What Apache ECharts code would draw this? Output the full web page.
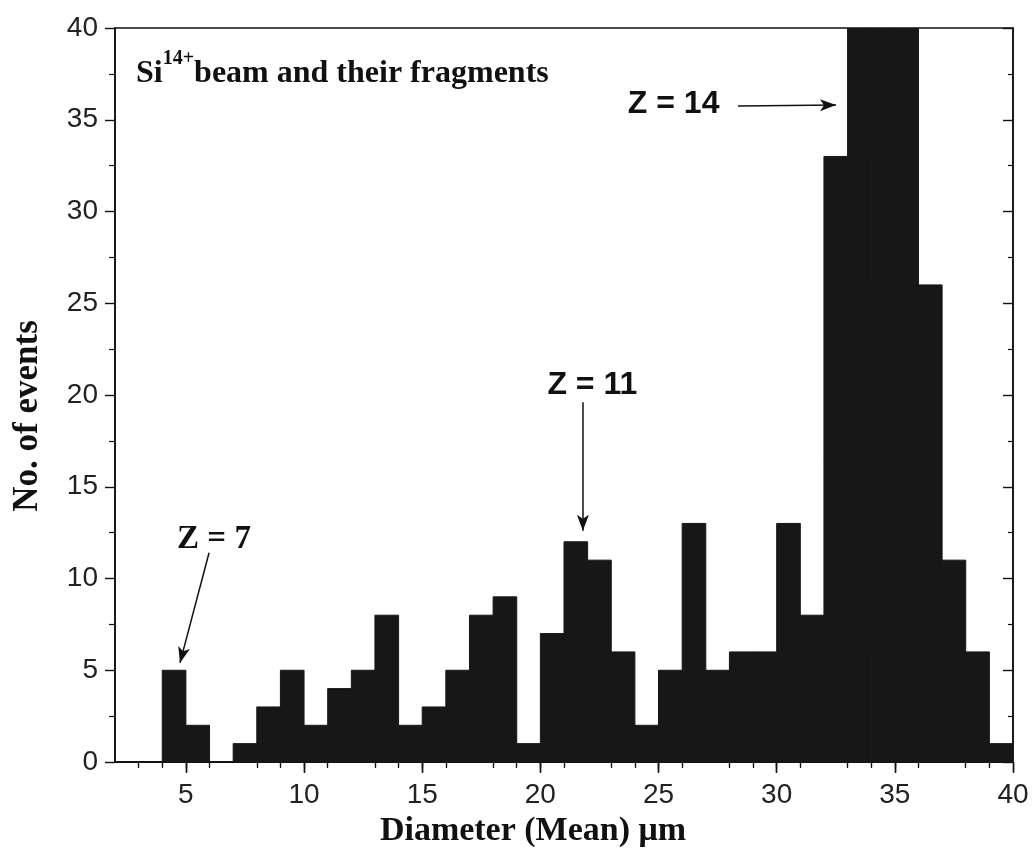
<!DOCTYPE html>
<html>
<head>
<meta charset="utf-8">
<script src="https://cdn.jsdelivr.net/npm/echarts@6/dist/echarts.min.js"></script>
<style>
html,body{margin:0;padding:0;background:#fff;}
#chart{width:1035px;height:853px;}
</style>
</head>
<body>
<div id="chart"></div>
<script>
// Histogram bins (left edges, width 1 µm) and counts
var binStart = [4,5,6,7,8,9,10,11,12,13,14,15,16,17,18,19,20,21,22,23,24,25,26,27,28,29,30,31,32,33,34,35,36,37,38,39];
var binWidth = 1;
var counts   = [5,2,0,1,3,5,2,4,5,8,2,3,5,8,9,1,7,12,11,6,2,5,13,5,6,6,13,8,33,45,48,44,26,11,6,1];
var xTicks = [5,10,15,20,25,30,35,40];
var yTicks = [0,5,10,15,20,25,30,35,40];

var serif = '"Liberation Serif","Times New Roman",serif';
var sans = '"Liberation Sans",Arial,sans-serif';
var ink = '#111111';

var histData = binStart.map(function (s, i) { return [s, s + binWidth, counts[i]]; });

var chart = echarts.init(document.getElementById('chart'), null, {renderer: 'canvas'});

var axisLine = {show: true, lineStyle: {color: '#111', width: 1.6}};

var option = {
  backgroundColor: '#ffffff',
  animation: false,
  grid: {left: 115, right: 22, top: 28, bottom: 91, containLabel: false,
         show: true, borderColor: '#111', borderWidth: 1.6, backgroundColor: 'transparent'},
  xAxis: [{
    type: 'value', min: 2, max: 40, interval: 5,
    position: 'bottom',
    name: 'Diameter (Mean) \u03bcm',
    nameLocation: 'middle', nameGap: 45,
    nameTextStyle: {fontFamily: serif, fontWeight: 'bold', fontSize: 34, color: ink, padding: [0, 62, 0, 0]},
    axisLine: axisLine,
    axisTick: {show: true, inside: false, length: 11, lineStyle: {color: '#111', width: 1.4}, customValues: xTicks},
    minorTick: {show: true, splitNumber: 5, length: 6, lineStyle: {color: '#111', width: 1.2}},
    splitLine: {show: false},
    axisLabel: {margin: 19, fontFamily: sans, fontSize: 28, color: '#222', customValues: xTicks}
  }, {
    type: 'value', min: 2, max: 40, interval: 5,
    position: 'top', show: true, gridIndex: 0,
    axisLine: axisLine,
    axisTick: {show: true, inside: true, length: 10, lineStyle: {color: '#111', width: 1.4}, customValues: xTicks},
    minorTick: {show: true, splitNumber: 5, length: 5, lineStyle: {color: '#111', width: 1.2}},
    axisLabel: {show: false},
    splitLine: {show: false}
  }],
  yAxis: [{
    type: 'value', min: 0, max: 40, interval: 5,
    position: 'left',
    name: 'No. of events',
    nameLocation: 'middle', nameGap: 70,
    nameTextStyle: {fontFamily: serif, fontWeight: 'bold', fontSize: 35, color: ink, padding: [0, 42, 0, 0]},
    axisLine: axisLine,
    axisTick: {show: true, inside: false, length: 10, lineStyle: {color: '#111', width: 1.4}},
    minorTick: {show: true, splitNumber: 2, length: 6, lineStyle: {color: '#111', width: 1.2}},
    splitLine: {show: false},
    axisLabel: {margin: 17, fontFamily: sans, fontSize: 28, color: '#222', customValues: yTicks}
  }, {
    type: 'value', min: 0, max: 40, interval: 5,
    position: 'right', show: true, gridIndex: 0,
    axisLine: axisLine,
    axisTick: {show: true, inside: true, length: 10, lineStyle: {color: '#111', width: 1.4}},
    minorTick: {show: true, splitNumber: 2, length: 5, lineStyle: {color: '#111', width: 1.2}},
    axisLabel: {show: false},
    splitLine: {show: false}
  }],
  series: [{
    type: 'custom',
    name: 'events',
    xAxisIndex: 0, yAxisIndex: 0,
    clip: true,
    encode: {x: [0, 1], y: 2},
    data: histData,
    renderItem: function (params, api) {
      var p0 = api.coord([api.value(0), 0]);
      var p1 = api.coord([api.value(1), api.value(2)]);
      var shape = echarts.graphic.clipRectByRect({
        x: p0[0], y: p1[1], width: p1[0] - p0[0], height: p0[1] - p1[1]
      }, {
        x: params.coordSys.x, y: params.coordSys.y,
        width: params.coordSys.width, height: params.coordSys.height
      });
      return shape && {
        type: 'rect',
        shape: shape,
        style: {fill: '#171717', stroke: '#171717', lineWidth: 1}
      };
    },
    z: 2
  }, {
    type: 'scatter',
    xAxisIndex: 1, yAxisIndex: 1,
    symbolSize: 0,
    silent: true,
    z: 5,
    itemStyle: {opacity: 1},
    label: {opacity: 1},
    data: [
      {value: [2.89, 37.5], label: {show: true, position: 'right', distance: 0,
        formatter: '{a|Si}{s|14+}{a|beam and their fragments}',
        rich: {
          a: {fontFamily: serif, fontWeight: 'bold', fontSize: 32, color: ink, lineHeight: 50},
          s: {fontFamily: serif, fontWeight: 'bold', fontSize: 20, color: ink, lineHeight: 20, verticalAlign: 'top'}
        }}},
      {value: [25.64, 35.83], label: {show: true, position: 'inside', formatter: 'Z = 14',
        fontFamily: sans, fontWeight: 'bold', fontSize: 32, color: ink}},
      {value: [22.2, 20.55], label: {show: true, position: 'inside', formatter: 'Z = 11',
        fontFamily: sans, fontWeight: 'bold', fontSize: 32, color: ink}},
      {value: [6.19, 12.1], label: {show: true, position: 'inside', formatter: 'Z = 7',
        fontFamily: serif, fontWeight: 'bold', fontSize: 33, color: ink}}
    ],
    markLine: {
      silent: true,
      symbol: ['none', 'arrow'],
      symbolSize: [9, 16],
      label: {show: false},
      lineStyle: {color: '#111', width: 1.5, type: 'solid', opacity: 1},
      emphasis: {disabled: true},
      data: [
        [{coord: [28.36, 35.75]}, {coord: [32.51, 35.8]}],
        [{coord: [21.8, 19.6]}, {coord: [21.8, 12.6]}],
        [{coord: [5.98, 11.4]}, {coord: [4.75, 5.4]}]
      ]
    }
  }]
};
chart.setOption(option);
</script>
</body>
</html>
